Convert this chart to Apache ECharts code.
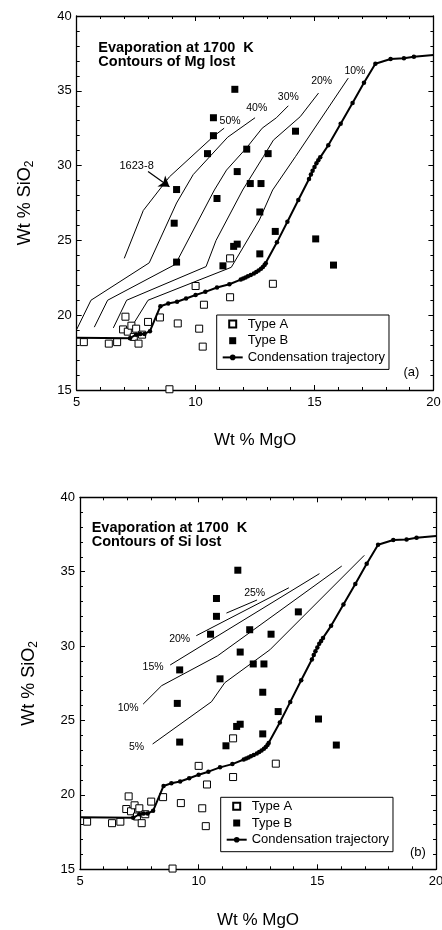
<!DOCTYPE html>
<html><head><meta charset="utf-8">
<script src="https://cdn.jsdelivr.net/npm/echarts@6/dist/echarts.min.js"></script>
<style>html,body{margin:0;padding:0;background:#fff}#c{width:442px;height:930px}</style>
</head><body><div id="c"></div>
<script>
const FONT = '"Liberation Sans", Arial, Helvetica, sans-serif';

// ---- data (Wt % MgO, Wt % SiO2) ----
const typeA = [[5.3,18.2],[6.35,18.1],[6.7,18.2],[7.05,19.9],[6.95,19.05],[7.15,18.9],[7.3,19.3],[7.5,19.1],[7.4,18.55],[7.6,18.1],[7.75,18.7],[8.0,19.55],[8.5,19.85],[9.25,19.45],[10.0,21.95],[10.35,20.7],[10.15,19.1],[10.3,17.9],[8.9,15.05],[11.45,23.8],[11.45,21.2],[13.25,22.1]];
const typeB = [[11.65,35.1],[10.75,33.2],[10.75,32.0],[10.5,30.8],[12.15,31.1],[13.05,30.8],[14.2,32.3],[11.75,29.6],[12.3,28.8],[12.75,28.8],[9.2,28.4],[10.9,27.8],[12.7,26.9],[9.1,26.15],[9.2,23.55],[13.35,25.6],[11.6,24.6],[11.75,24.75],[12.7,24.1],[11.15,23.3],[15.05,25.1],[15.8,23.35]];
const trajectory = [[5.0,18.5],[7.24,18.46],[7.5,18.7],[7.68,18.75],[7.85,18.75],[8.08,18.93],[8.52,20.6],[8.85,20.78],[9.22,20.9],[9.6,21.12],[10.0,21.35],[10.41,21.56],[10.9,21.85],[11.42,22.07],[11.9,22.38],[12.0,22.45],[12.1,22.52],[12.2,22.6],[12.32,22.68],[12.45,22.78],[12.55,22.88],[12.65,22.98],[12.75,23.1],[12.83,23.22],[12.9,23.35],[12.95,23.48],[13.42,24.87],[13.86,26.25],[14.32,27.7],[14.77,29.1],[14.85,29.4],[14.92,29.65],[15.0,29.9],[15.08,30.15],[15.16,30.35],[15.24,30.55],[15.58,31.36],[16.1,32.8],[16.6,34.18],[17.08,35.54],[17.56,36.81],[18.2,37.13],[18.76,37.17],[19.18,37.28],[20.0,37.4]];

// contours of Mg lost (panel a)
const mgNames = ['50%','40%','30%','20%','10%'];
const mg50 = [[7.0,23.8],[7.8,27.0],[8.9,29.25],[10.75,31.95],[11.2,32.5]];
const mg40 = [[5.0,19.05],[5.6,21.0],[8.05,23.5],[9.2,27.5],[9.9,29.4],[11.35,31.9],[12.5,33.2]];
const mg30 = [[5.74,19.2],[6.3,21.0],[9.15,23.4],[10.79,28.37],[11.3,29.7],[12.15,31.2],[12.8,32.5],[13.4,33.2],[13.9,34.0]];
const mg20 = [[6.54,19.15],[7.1,21.0],[10.44,23.25],[10.86,25.0],[11.98,28.37],[12.85,30.6],[13.27,31.7],[14.4,33.27],[15.17,34.85]];
const mg10 = [[7.3,19.2],[8.0,21.0],[11.5,23.2],[12.68,26.36],[13.24,28.37],[14.2,30.6],[16.42,35.85]];
const mgLabelPos = [[11.45,33.0],[12.57,33.83],[13.9,34.57],[15.3,35.65],[16.7,36.32]];

// contours of Si lost (panel b)
const siNames = ['25%','20%','15%','10%','5%'];
const si25 = [[11.17,32.22],[12.46,33.1]];
const si20 = [[9.9,30.7],[13.8,33.92]];
const si15 = [[8.8,28.73],[15.09,34.87]];
const si10 = [[7.66,26.1],[8.44,27.34],[10.8,29.35],[16.03,35.38]];
const si5  = [[8.06,23.42],[10.54,26.26],[11.1,27.54],[13.0,29.75],[16.98,36.1]];
const siLabelPos = [[12.36,33.59],[9.2,30.5],[8.08,28.62],[7.03,25.82],[7.38,23.2]];

// sample annotation
const sampleName = '1623-8';
const sampleLabelPos = [7.52,29.99];
const sampleArrow = [[8.0,29.6],[8.9,28.58]];

const xRange = [5,20], yRange = [15,40], majorStep = 5;
const xName = 'Wt % MgO';
const titlesTxt = ['Evaporation at 1700  K\nContours of Mg lost','Evaporation at 1700  K\nContours of Si lost'];
const panelTags = ['(a)','(b)'];
const legendNames = ['Type A','Type B','Condensation trajectory'];

// ---- build ----
function xAx(grid, pos, withLabel, gap){
  return {type:'value', gridIndex:grid, position:pos, min:xRange[0], max:xRange[1], interval:majorStep,
    axisLine:{show:true,onZero:false,lineStyle:{color:'#000',width:1.3}},
    axisTick:{show:true,inside:true,length:5,lineStyle:{color:'#000',width:1}},
    minorTick:{show:true,splitNumber:5,length:3,lineStyle:{color:'#000',width:1}},
    splitLine:{show:false}, minorSplitLine:{show:false},
    axisLabel:{show:withLabel,color:'#000',fontSize:13,fontFamily:FONT,margin:6},
    name: withLabel ? xName : '', nameLocation:'middle', nameGap:gap,
    nameTextStyle:{color:'#000',fontSize:17,fontFamily:FONT}};
}
function yAx(grid, pos, withLabel, gap){
  return {type:'value', gridIndex:grid, position:pos, min:yRange[0], max:yRange[1], interval:majorStep,
    axisLine:{show:true,onZero:false,lineStyle:{color:'#000',width:1.3}},
    axisTick:{show:true,inside:true,length:5,lineStyle:{color:'#000',width:1}},
    minorTick:{show:true,splitNumber:5,length:3,lineStyle:{color:'#000',width:1}},
    splitLine:{show:false}, minorSplitLine:{show:false},
    axisLabel:{show:withLabel,color:'#000',fontSize:13,fontFamily:FONT,margin:5},
    name: withLabel ? '{a|Wt % SiO}{b|2}' : '', nameLocation:'middle', nameGap:gap,
    nameTextStyle:{color:'#000',fontSize:18,fontFamily:FONT,
      rich:{a:{fontSize:18,fontFamily:FONT,color:'#000',lineHeight:22},
            b:{fontSize:12,fontFamily:FONT,color:'#000',lineHeight:12,verticalAlign:'bottom'}}}};
}
function contour(data, gi){
  return {type:'line', xAxisIndex:gi*2, yAxisIndex:gi*2, data:data, symbol:'none', silent:true,
    lineStyle:{color:'#000',width:1}, z:2};
}
function labelSeries(names, pos, gi, extra){
  const s = {type:'scatter', xAxisIndex:gi*2, yAxisIndex:gi*2, silent:true, symbol:'circle', symbolSize:0.1,
    itemStyle:{color:'#000',opacity:1}, z:5,
    data: names.map((n,i)=>({name:n, value:pos[i]})),
    label:{show:true, position:'inside', formatter:p=>p.name, color:'#000', fontSize:10.5, fontFamily:FONT}};
  return Object.assign(s, extra||{});
}
function pointSeries(gi){
  return [
    {name:legendNames[0], type:'scatter', xAxisIndex:gi*2, yAxisIndex:gi*2, data:typeA, symbol:'rect', symbolSize:7, clip:false,
      itemStyle:{color:'#fff',borderColor:'#000',borderWidth:1,opacity:1}, z:3},
    {name:legendNames[1], type:'scatter', xAxisIndex:gi*2, yAxisIndex:gi*2, data:typeB, symbol:'rect', symbolSize:7, clip:false,
      itemStyle:{color:'#000',opacity:1}, z:3},
    {name:legendNames[2], type:'line', xAxisIndex:gi*2, yAxisIndex:gi*2, showAllSymbol:true,
      data: trajectory.map((p,i)=> (i===0||i===trajectory.length-1) ? {value:p, symbol:'none'} : {value:p}),
      symbol:'circle', symbolSize:4.5, itemStyle:{color:'#000',opacity:1}, lineStyle:{color:'#000',width:2}, z:4}
  ];
}
const squareIcon = 'path://M0,0h10v10h-10z';
function legendAt(left, top){
  return {show:true, orient:'vertical', left:left, top:top, padding:[2,4,5,5], itemGap:2.7, itemWidth:20, itemHeight:7,
    borderColor:'#000', borderWidth:1, borderRadius:0, backgroundColor:'#fff', selectedMode:false, symbolKeepAspect:true,
    textStyle:{fontSize:13, fontFamily:FONT, color:'#000', lineHeight:14},
    data:[{name:legendNames[0], icon:squareIcon},{name:legendNames[1], icon:squareIcon},{name:legendNames[2]}]};
}

const series = [];
[mg50,mg40,mg30,mg20,mg10].forEach(d=>series.push(contour(d,0)));
[si25,si20,si15,si10,si5].forEach(d=>series.push(contour(d,1)));
series.push(...pointSeries(0), ...pointSeries(1));
series.push(labelSeries(mgNames, mgLabelPos, 0));
series.push(labelSeries(siNames, siLabelPos, 1));
series.push(labelSeries([sampleName], [sampleLabelPos], 0, {
  label:{show:true, position:'inside', formatter:p=>p.name, color:'#000', fontSize:11, fontFamily:FONT},
  markLine:{silent:true, symbol:['none','arrow'], symbolSize:10, animation:false,
    lineStyle:{color:'#000',width:1.2,type:'solid',opacity:1}, itemStyle:{color:'#000'}, label:{show:false},
    emphasis:{disabled:true},
    data:[[{coord:sampleArrow[0]},{coord:sampleArrow[1]}]]}
}));

const option = {
  animation:false, backgroundColor:'#fff',
  textStyle:{fontFamily:FONT},
  grid:[{left:76.7, top:16, width:356.7, height:374, outerBoundsMode:'none', containLabel:false},
        {left:80, top:497.3, width:356, height:372, outerBoundsMode:'none', containLabel:false}],
  xAxis:[xAx(0,'bottom',true,42), xAx(0,'top',false,0), xAx(1,'bottom',true,43), xAx(1,'top',false,0)],
  yAxis:[yAx(0,'left',true,41), yAx(0,'right',false,0), yAx(1,'left',true,40), yAx(1,'right',false,0)],
  legend:[legendAt(216.7,315), legendAt(220.7,797.3)],
  title:[
    {text:titlesTxt[0], left:98.3, top:41, padding:0, textStyle:{fontSize:14.5,fontWeight:'bold',fontFamily:FONT,color:'#000',lineHeight:14}},
    {text:titlesTxt[1], left:91.7, top:521.3, padding:0, textStyle:{fontSize:14.5,fontWeight:'bold',fontFamily:FONT,color:'#000',lineHeight:14}},
    {text:panelTags[0], left:403.5, top:365.5, padding:0, textStyle:{fontSize:13,fontWeight:'normal',fontFamily:FONT,color:'#000'}},
    {text:panelTags[1], left:410, top:846, padding:0, textStyle:{fontSize:13,fontWeight:'normal',fontFamily:FONT,color:'#000'}}
  ],
  series:series
};
const chart = echarts.init(document.getElementById('c'), null, {renderer:'canvas'});
chart.setOption(option);
</script></body></html>
